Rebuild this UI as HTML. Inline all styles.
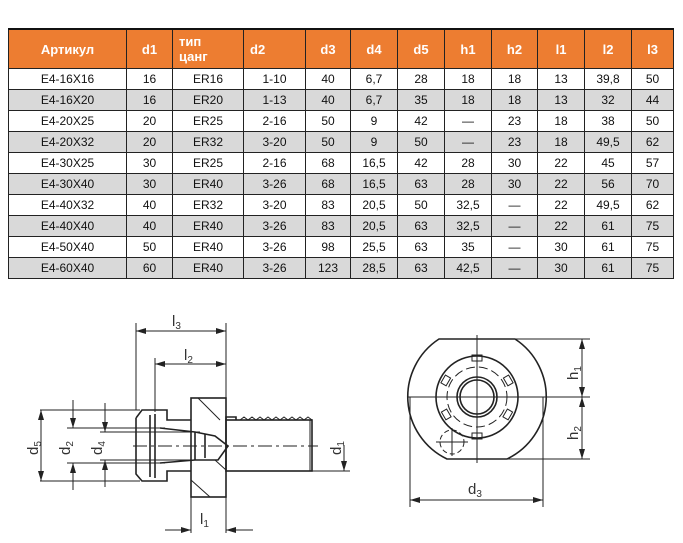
<!DOCTYPE html>
<html><head><meta charset="utf-8"><style>
body{margin:0;background:#fff;width:683px;height:543px;overflow:hidden;position:relative;font-family:"Liberation Sans",Arial,sans-serif}
table{position:absolute;left:8px;top:28px;border-collapse:collapse;table-layout:fixed;border-top:2px solid #111}
td{border:1px solid #222;height:20px;padding:0;text-align:center;font-size:12px;color:#111;line-height:20px}
tr.h td{background:#ed7d31;color:#fff;font-weight:bold;font-size:13px;height:38px;line-height:15px}
tr.g td{background:#d9d9d9}
svg{position:absolute;left:0;top:0}
</style></head><body>
<table>
<colgroup><col style="width:118px"><col style="width:46px"><col style="width:71px"><col style="width:62px"><col style="width:45px"><col style="width:47px"><col style="width:47px"><col style="width:47px"><col style="width:46px"><col style="width:47px"><col style="width:47px"><col style="width:42px"></colgroup>
<tr class="h"><td>Артикул</td><td>d1</td><td style="text-align:left;padding-left:6px">тип<br>цанг</td><td style="text-align:left;padding-left:6px">d2</td><td>d3</td><td>d4</td><td>d5</td><td>h1</td><td>h2</td><td>l1</td><td>l2</td><td>l3</td></tr>
<tr><td>E4-16X16</td><td>16</td><td>ER16</td><td>1-10</td><td>40</td><td>6,7</td><td>28</td><td>18</td><td>18</td><td>13</td><td>39,8</td><td>50</td></tr>
<tr class="g"><td>E4-16X20</td><td>16</td><td>ER20</td><td>1-13</td><td>40</td><td>6,7</td><td>35</td><td>18</td><td>18</td><td>13</td><td>32</td><td>44</td></tr>
<tr><td>E4-20X25</td><td>20</td><td>ER25</td><td>2-16</td><td>50</td><td>9</td><td>42</td><td>—</td><td>23</td><td>18</td><td>38</td><td>50</td></tr>
<tr class="g"><td>E4-20X32</td><td>20</td><td>ER32</td><td>3-20</td><td>50</td><td>9</td><td>50</td><td>—</td><td>23</td><td>18</td><td>49,5</td><td>62</td></tr>
<tr><td>E4-30X25</td><td>30</td><td>ER25</td><td>2-16</td><td>68</td><td>16,5</td><td>42</td><td>28</td><td>30</td><td>22</td><td>45</td><td>57</td></tr>
<tr class="g"><td>E4-30X40</td><td>30</td><td>ER40</td><td>3-26</td><td>68</td><td>16,5</td><td>63</td><td>28</td><td>30</td><td>22</td><td>56</td><td>70</td></tr>
<tr><td>E4-40X32</td><td>40</td><td>ER32</td><td>3-20</td><td>83</td><td>20,5</td><td>50</td><td>32,5</td><td>—</td><td>22</td><td>49,5</td><td>62</td></tr>
<tr class="g"><td>E4-40X40</td><td>40</td><td>ER40</td><td>3-26</td><td>83</td><td>20,5</td><td>63</td><td>32,5</td><td>—</td><td>22</td><td>61</td><td>75</td></tr>
<tr><td>E4-50X40</td><td>50</td><td>ER40</td><td>3-26</td><td>98</td><td>25,5</td><td>63</td><td>35</td><td>—</td><td>30</td><td>61</td><td>75</td></tr>
<tr class="g"><td>E4-60X40</td><td>60</td><td>ER40</td><td>3-26</td><td>123</td><td>28,5</td><td>63</td><td>42,5</td><td>—</td><td>30</td><td>61</td><td>75</td></tr>
</table>
<svg width="683" height="543" viewBox="0 0 683 543">
<defs><marker id="a" markerWidth="10" markerHeight="6" refX="10" refY="3" orient="auto-start-reverse" markerUnits="userSpaceOnUse"><path d="M0,0 L10,3 L0,6z" fill="#222"/></marker></defs>
<g stroke="#222" fill="none" stroke-width="1">
<line x1="136" y1="323" x2="136" y2="410"/><line x1="226" y1="323" x2="226" y2="533"/><line x1="155" y1="358" x2="155" y2="412"/><line x1="191" y1="497" x2="191" y2="533"/>
<line x1="136" y1="331" x2="226" y2="331" marker-start="url(#a)" marker-end="url(#a)"/>
<line x1="155" y1="364" x2="226" y2="364" marker-start="url(#a)" marker-end="url(#a)"/>
<line x1="165" y1="530" x2="191" y2="530" marker-end="url(#a)"/><line x1="253" y1="530" x2="226" y2="530" marker-end="url(#a)"/>
<line x1="40" y1="410" x2="140" y2="410"/><line x1="40" y1="481" x2="140" y2="481"/>
<line x1="41" y1="410" x2="41" y2="481" marker-start="url(#a)" marker-end="url(#a)"/>
<line x1="67" y1="428" x2="165" y2="428"/><line x1="67" y1="463" x2="165" y2="463"/>
<line x1="73" y1="400" x2="73" y2="428" marker-end="url(#a)"/><line x1="73" y1="490" x2="73" y2="463" marker-end="url(#a)"/>
<line x1="100" y1="432" x2="200" y2="432"/><line x1="100" y1="460" x2="200" y2="460"/>
<line x1="105" y1="403" x2="105" y2="432" marker-end="url(#a)"/><line x1="105" y1="487" x2="105" y2="460" marker-end="url(#a)"/>
<line x1="312" y1="471" x2="350" y2="471"/><line x1="344" y1="445" x2="344" y2="471" marker-end="url(#a)"/>
<g stroke-width="1.6">
<rect x="191" y="398" width="35" height="99"/>
<path d="M136,418 L142,410 L167,410 L167,420 L191,420 M136,418 L136,474 L142,481 L167,481 L167,471 L191,471"/>
<rect x="226" y="420" width="86" height="51"/>
<path d="M226,420 L226,417 L236,417 L236,420"/>
<path d="M150,415 L150,477 M155,414 L155,478"/>
<path d="M160,428 L195,432 L215,436 L228,446 L218,460 L195,460 L160,463"/>
<path d="M195,432 L195,460 M205,434 L205,458"/>
</g>
<path d="M240,420 l4,-3 l4,3 l4,-3 l4,3 l4,-3 l4,3 l4,-3 l4,3 l4,-3 l4,3 l4,-3 l4,3 l4,-3 l4,3 l4,-3 l4,3 l4,-3 l4,3"/>
<line x1="310" y1="420" x2="310" y2="471"/>
<path d="M198,398 L220,420 M191,480 L210,497 M215,460 L226,470"/>
<line x1="133" y1="446" x2="318" y2="446" stroke-dasharray="14,4,3,4"/>
<g stroke-width="1.6">
<path d="M439,339 L515,339 A69,69 0 0 1 507,459 L447,459 A69,69 0 0 1 439,339 Z"/>
<circle cx="477" cy="397" r="41"/>
<circle cx="477" cy="397" r="20"/><circle cx="477" cy="397" r="17"/>
</g>
<circle cx="477" cy="397" r="30" stroke-dasharray="9,4"/>
<rect x="472" y="355" width="10" height="6"/><rect x="472" y="433" width="10" height="6"/>
<rect x="443" y="376" width="6" height="9" transform="rotate(30 446 380)"/><rect x="505" y="376" width="6" height="9" transform="rotate(-30 508 380)"/>
<rect x="443" y="410" width="6" height="9" transform="rotate(-30 446 414)"/><rect x="505" y="410" width="6" height="9" transform="rotate(30 508 414)"/>
<circle cx="452" cy="442" r="12" stroke-dasharray="5,3"/>
<line x1="436" y1="442" x2="468" y2="442"/><line x1="452" y1="428" x2="452" y2="456"/>
<line x1="477" y1="335" x2="477" y2="463"/><line x1="408" y1="397" x2="545" y2="397"/>
<line x1="515" y1="339" x2="590" y2="339"/><line x1="545" y1="397" x2="590" y2="397"/><line x1="506" y1="459" x2="590" y2="459"/>
<line x1="582" y1="339" x2="582" y2="397" marker-start="url(#a)" marker-end="url(#a)"/>
<line x1="582" y1="397" x2="582" y2="459" marker-start="url(#a)" marker-end="url(#a)"/>
<line x1="410" y1="397" x2="410" y2="507"/><line x1="543" y1="397" x2="543" y2="507"/>
<line x1="410" y1="500" x2="543" y2="500" marker-start="url(#a)" marker-end="url(#a)"/>
</g>
<g font-family="Liberation Sans,sans-serif" font-size="15" fill="#333">
<text x="172" y="326">l<tspan font-size="10" dy="3">3</tspan></text>
<text x="184" y="360">l<tspan font-size="10" dy="3">2</tspan></text>
<text x="200" y="524">l<tspan font-size="10" dy="3">1</tspan></text>
<text x="468" y="494">d<tspan font-size="10" dy="3">3</tspan></text>
<text transform="translate(38,455) rotate(-90)">d<tspan font-size="10" dy="3">5</tspan></text>
<text transform="translate(70,455) rotate(-90)">d<tspan font-size="10" dy="3">2</tspan></text>
<text transform="translate(102,455) rotate(-90)">d<tspan font-size="10" dy="3">4</tspan></text>
<text transform="translate(341,455) rotate(-90)">d<tspan font-size="10" dy="3">1</tspan></text>
<text transform="translate(578,380) rotate(-90)">h<tspan font-size="10" dy="3">1</tspan></text>
<text transform="translate(578,440) rotate(-90)">h<tspan font-size="10" dy="3">2</tspan></text>
</g>
</svg>
</body></html>
